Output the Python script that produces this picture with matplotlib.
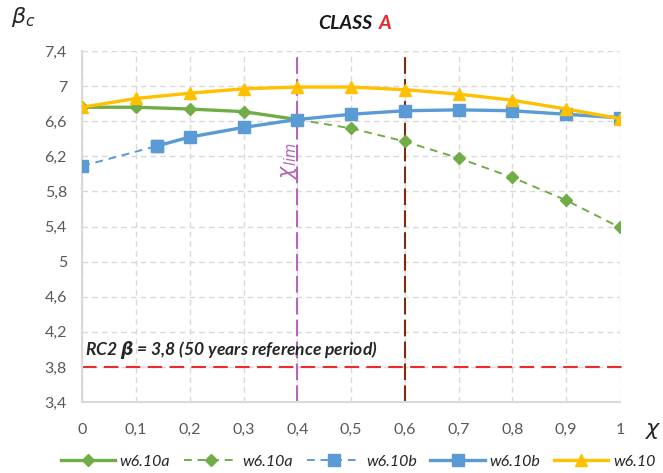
import numpy as np
import matplotlib
matplotlib.use("Agg")
import matplotlib.pyplot as plt
from matplotlib.ticker import FuncFormatter, FixedLocator
from matplotlib.lines import Line2D

# ---- Data ----
chi_a_solid = [0.0, 0.1, 0.2, 0.3, 0.4]
beta_a_solid = [6.76, 6.76, 6.74, 6.71, 6.62]
chi_a_dash = [0.4, 0.5, 0.6, 0.7, 0.8, 0.9, 1.0]
beta_a_dash = [6.62, 6.52, 6.37, 6.18, 5.96, 5.70, 5.39]
chi_b_dash = [0.0, 0.14]
beta_b_dash = [6.09, 6.32]
chi_b_solid = [0.14, 0.2, 0.3, 0.4, 0.5, 0.6, 0.7, 0.8, 0.9, 1.0]
beta_b_solid = [6.32, 6.42, 6.53, 6.62, 6.68, 6.72, 6.73, 6.72, 6.68, 6.64]
chi_all = [0.0, 0.1, 0.2, 0.3, 0.4, 0.5, 0.6, 0.7, 0.8, 0.9, 1.0]
beta_610 = [6.76, 6.86, 6.92, 6.97, 6.99, 6.99, 6.96, 6.91, 6.84, 6.74, 6.63]
legend_labels = ["w6.10a", "w6.10a", "w6.10b", "w6.10b", "w6.10"]
x_ticks = [0.0, 0.1, 0.2, 0.3, 0.4, 0.5, 0.6, 0.7, 0.8, 0.9, 1.0]
y_ticks = [3.4, 3.8, 4.2, 4.6, 5.0, 5.4, 5.8, 6.2, 6.6, 7.0, 7.4]

chi_lim = 0.4
chi_brown = 0.6
beta_target = 3.8

GREEN = "#70AD47"
BLUE = "#5B9BD5"
YELLOW = "#FFC000"
PURPLE = "#B466B8"
BROWN = "#7A2E0E"
RED = "#EE2B2B"
GRID = "#D9D9D9"
TXT = "#595959"

plt.rcParams["font.family"] = ["Lato", "DejaVu Sans"]

fig = plt.figure(figsize=(6.63, 4.73), dpi=100)
ax = fig.add_axes([0.124, 0.150, 0.811, 0.742])

# ---- Series ----
ax.plot(chi_a_dash, beta_a_dash, color=GREEN, lw=1.4, ls=(0, (4, 3)),
        marker="D", ms=6.5, zorder=3)
ax.plot(chi_a_solid, beta_a_solid, color=GREEN, lw=2.4,
        marker="D", ms=6.5, zorder=4)
ax.plot(chi_b_dash, beta_b_dash, color=BLUE, lw=1.4, ls=(0, (4, 3)),
        marker="s", ms=8.5, zorder=5)
ax.plot(chi_b_solid, beta_b_solid, color=BLUE, lw=2.4,
        marker="s", ms=8.5, zorder=5)
ax.plot(chi_all, beta_610, color=YELLOW, lw=2.4,
        marker="^", ms=9, zorder=6)

# ---- Reference lines ----
ax.plot([chi_lim, chi_lim], [3.4, 7.37], color=PURPLE, lw=1.5,
        ls=(0, (8, 2.5)), zorder=2)
ax.plot([chi_brown, chi_brown], [3.4, 7.36], color=BROWN, lw=1.5,
        ls=(0, (8, 2.5)), zorder=2)
ax.plot([0, 1.013], [beta_target, beta_target], color=RED, lw=1.5,
        ls=(0, (7, 3.5)), zorder=2, clip_on=False)

ax.text(0.006, 3.99, r"RC2 $\boldsymbol{\beta}$ = 3,8 (50 years reference period)",
        fontsize=12.6, fontweight="bold", fontstyle="italic", color="#262626",
        va="center", ha="left")
ax.text(0.385, 6.15, r"$\chi_{lim}$", fontsize=15, color=PURPLE, rotation=90,
        va="center", ha="center")

# ---- Axes styling ----
ax.set_xlim(0, 1)
ax.set_ylim(3.4, 7.4)
ax.xaxis.set_major_locator(FixedLocator(x_ticks))
ax.yaxis.set_major_locator(FixedLocator(y_ticks))
comma = FuncFormatter(lambda v, p: f"{round(v, 2):g}".replace(".", ","))
ax.xaxis.set_major_formatter(comma)
ax.yaxis.set_major_formatter(comma)
ax.tick_params(length=0, labelsize=11.5, colors=TXT)
ax.tick_params(axis="y", pad=11)
ax.tick_params(axis="x", pad=15)
ax.grid(True, color=GRID, lw=1, ls=(0, (4, 3)))
ax.set_axisbelow(True)
for s in ["top", "right"]:
    ax.spines[s].set_visible(False)
for s in ["left", "bottom"]:
    ax.spines[s].set_color(GRID)
    ax.spines[s].set_linewidth(1.5)

# ---- Titles / axis symbols ----
fig.text(0.561, 0.951, "CLASS", fontsize=14, fontweight="bold",
         fontstyle="italic", color="#1a1a1a", ha="right", va="center")
fig.text(0.572, 0.951, "A", fontsize=14, fontweight="bold",
         fontstyle="italic", color="#E8262A", ha="left", va="center")
fig.text(0.035, 0.965, r"$\beta_c$", fontsize=16, color="#262626",
         ha="center", va="center")
fig.text(0.985, 0.088, r"$\chi$", fontsize=16, color="#262626",
         ha="center", va="center")

# ---- Legend ----
handles = [
    Line2D([], [], color=GREEN, lw=2.4, marker="D", ms=6.5),
    Line2D([], [], color=GREEN, lw=1.4, ls=(0, (4, 3)), marker="D", ms=6.5),
    Line2D([], [], color=BLUE, lw=1.4, ls=(0, (4, 3)), marker="s", ms=8.5),
    Line2D([], [], color=BLUE, lw=2.4, marker="s", ms=8.5),
    Line2D([], [], color=YELLOW, lw=2.4, marker="^", ms=9),
]
leg = fig.legend(handles, legend_labels, loc="center", ncol=5,
                 bbox_to_anchor=(0.54, 0.024), frameon=False,
                 handlelength=3.4, columnspacing=0.85, handletextpad=0.3,
                 prop={"size": 11.5, "style": "italic"})
for t in leg.get_texts():
    t.set_color("#262626")

fig.savefig("out.png", dpi=100)
